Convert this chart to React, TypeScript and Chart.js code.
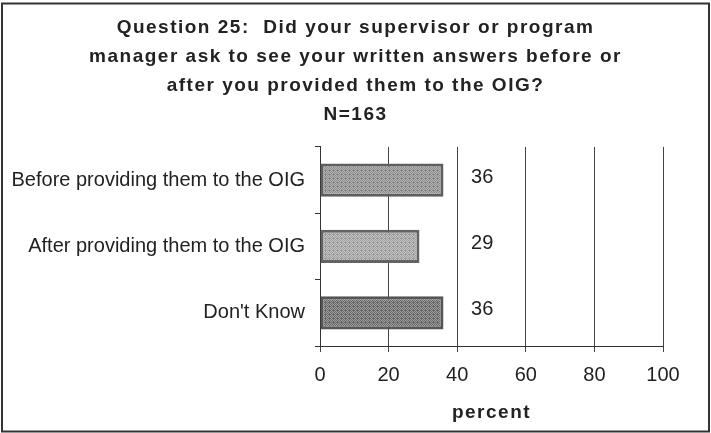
import React, { useEffect, useRef } from "react";
import { Chart, registerables } from "chart.js";

Chart.register(...registerables);

const categories = [
  "Before providing them to the OIG",
  "After providing them to the OIG",
  "Don't Know",
];
const percentValues = [36, 29, 36];
const valueLabels = ["36", "29", "36"];
const xTicks = [0, 20, 40, 60, 80, 100];
const titleLines = [
  "Question 25:  Did your supervisor or program",
  "manager ask to see your written answers before or",
  "after you provided them to the OIG?",
  "N=163",
];
const xAxisTitle = "percent";

const FONT = "'Liberation Sans', Arial, Helvetica, sans-serif";

function makePattern(c1: string, c2: string, c3: string) {
  const cv = document.createElement("canvas");
  cv.width = 4;
  cv.height = 4;
  const ctx = cv.getContext("2d")!;
  for (let y = 0; y < 4; y++) {
    for (let x = 0; x < 4; x++) {
      const k = (x + y) % 2 === 0 ? c1 : (x * 3 + y) % 5 === 0 ? c3 : c2;
      ctx.fillStyle = k;
      ctx.fillRect(x, y, 1, 1);
    }
  }
  const main = document.createElement("canvas").getContext("2d")!;
  return main.createPattern(cv, "repeat")!;
}

// Bold titles in the reference are drawn with wide letter spacing;
// tick labels are not. Title + axis title are drawn in the z<=0 layers,
// ticks (ticks.z = 1) after datasets, where the spacing is reset.
const spacingPlugin = {
  id: "spacing",
  beforeDraw(chart: any) {
    (chart.ctx as any).letterSpacing = "1.5px";
  },
  afterDatasetsDraw(chart: any) {
    const ctx = chart.ctx;
    (ctx as any).letterSpacing = "0px";
    const xs = chart.scales.x;
    const meta = chart.getDatasetMeta(0);
    ctx.save();
    ctx.font = `20px ${FONT}`;
    ctx.fillStyle = "#222";
    ctx.textAlign = "center";
    ctx.textBaseline = "middle";
    meta.data.forEach((bar: any, i: number) => {
      ctx.fillText(valueLabels[i], xs.getPixelForValue(47.3), bar.y - 3);
    });
    ctx.restore();
  },
  afterDraw(chart: any) {
    const ctx = chart.ctx;
    ctx.save();
    ctx.strokeStyle = "#333";
    ctx.lineWidth = 2;
    ctx.strokeRect(2, 3.5, chart.width - 4, chart.height - 5);
    ctx.restore();
  },
};

export default function App() {
  const ref = useRef<HTMLCanvasElement>(null);
  useEffect(() => {
    if (!ref.current) return;
    const fills = [
      makePattern("#8e8e8e", "#b2b2b2", "#707070"),
      makePattern("#a0a0a0", "#c2c2c2", "#8a8a8a"),
      makePattern("#6a6a6a", "#9c9c9c", "#585858"),
    ];
    const chart = new Chart(ref.current, {
      type: "bar",
      data: {
        labels: categories,
        datasets: [
          {
            data: percentValues,
            backgroundColor: fills as any,
            borderColor: ["#5e5e5e", "#636363", "#555"],
            borderWidth: 3,
            borderSkipped: false,
            barPercentage: 0.5,
            categoryPercentage: 1,
          },
        ],
      },
      options: {
        indexAxis: "y",
        animation: false,
        responsive: false,
        maintainAspectRatio: false,
        layout: { padding: { top: 0, left: 0, right: 0, bottom: 0 } },
        plugins: {
          legend: { display: false },
          tooltip: { enabled: false },
          title: {
            display: true,
            text: titleLines,
            color: "#222",
            font: { family: FONT, size: 19, weight: "bold", lineHeight: 1.52 },
            padding: { top: 13.8, bottom: 17.6 },
          },
        },
        scales: {
          x: {
            min: 0,
            max: 100,
            afterBuildTicks: (s: any) => {
              s.ticks = xTicks.map((v) => ({ value: v }));
            },
            afterFit: (s: any) => {
              s.height = 87;
            },
            grid: {
              color: "#444",
              lineWidth: 1,
              tickLength: 6,
              drawOnChartArea: true,
            },
            border: { color: "#333", width: 1 },
            ticks: {
              z: 1,
              color: "#222",
              font: { family: FONT, size: 20 },
              padding: 11,
            },
            title: {
              display: true,
              text: xAxisTitle,
              color: "#222",
              font: { family: FONT, size: 19, weight: "bold" },
              padding: { top: 0, bottom: 9 },
            },
          },
          y: {
            afterFit: (s: any) => {
              s.width = 320;
            },
            grid: {
              drawOnChartArea: false,
              tickLength: 5,
              color: "#333",
            },
            border: { color: "#333", width: 1 },
            ticks: {
              z: 1,
              color: "#222",
              font: { family: FONT, size: 20 },
              padding: 10,
            },
          },
          // empty right-hand margin so the chart area ends at 100 like the reference
          rightMargin: {
            type: "linear",
            position: "right",
            display: true,
            afterFit: (s: any) => {
              s.width = 48;
            },
            grid: { display: false, drawTicks: false },
            border: { display: false },
            ticks: { display: false },
          },
        },
      },
      plugins: [spacingPlugin],
    });
    return () => chart.destroy();
  }, []);
  return (
    <div style={{ position: "fixed", left: 0, top: 0, width: 711, height: 433, background: "#fff" }}>
      <canvas ref={ref} width={711} height={433} style={{ display: "block" }} />
    </div>
  );
}
